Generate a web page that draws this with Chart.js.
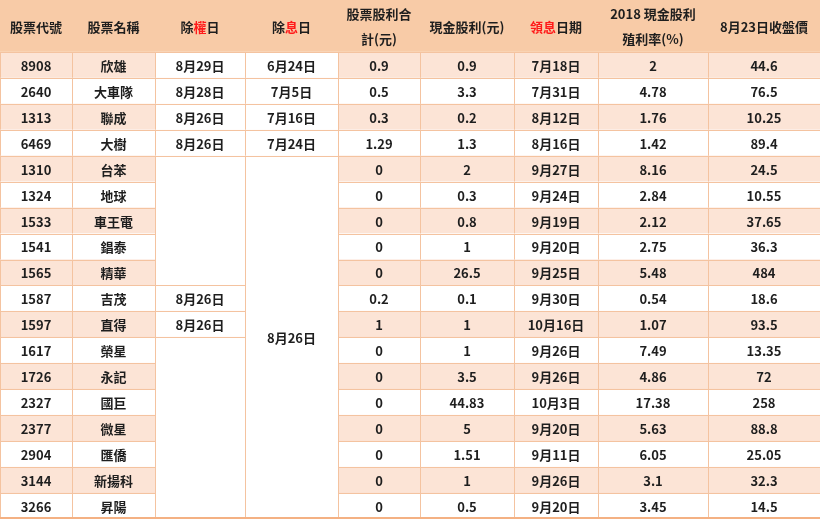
<!DOCTYPE html>
<html><head><meta charset="utf-8">
<script src="https://cdn.jsdelivr.net/npm/chart.js@4"></script>
<style>html,body{margin:0;background:#fff}#wrap{width:820px;height:519px}</style>
</head><body><div id="wrap"><canvas id="c"></canvas></div>
<script>
// ---- table data ----
const codes = ["8908","2640","1313","6469","1310","1324","1533","1541","1565","1587","1597","1617","1726","2327","2377","2904","3144","3266"];
const names = ["欣雄","大車隊","聯成","大樹","台苯","地球","車王電","錩泰","精華","吉茂","直得","榮星","永記","國巨","微星","匯僑","新揚科","昇陽"];
const exRightDates = ["8月29日","8月28日","8月26日","8月26日",null,null,null,null,null,"8月26日","8月26日",null,null,null,null,null,null,null];
const exDivDates = ["6月24日","7月5日","7月16日","7月24日"];
const exDivMerged = "8月26日"; // shared by rows 1310 … 3266
const stockDiv = [0.9,0.5,0.3,1.29,0,0,0,0,0,0.2,1,0,0,0,0,0,0,0];
const cashDiv = [0.9,3.3,0.2,1.3,2,0.3,0.8,1,26.5,0.1,1,1,3.5,44.83,5,1.51,1,0.5];
const payDates = ["7月18日","7月31日","8月12日","8月16日","9月27日","9月24日","9月19日","9月20日","9月25日","9月30日","10月16日","9月26日","9月26日","10月3日","9月20日","9月11日","9月26日","9月20日"];
const yields = [2,4.78,1.76,1.42,8.16,2.84,2.12,2.75,5.48,0.54,1.07,7.49,4.86,17.38,5.63,6.05,3.1,3.45];
const closes = [44.6,76.5,10.25,89.4,24.5,10.55,37.65,36.3,484,18.6,93.5,13.35,72,258,88.8,25.05,32.3,14.5];

// header: each cell is a list of lines, each line a list of [text, red?]
const headers = [
  [[["股票代號"]]], [[["股票名稱"]]],
  [[["除"],["權",1],["日"]]], [[["除"],["息",1],["日"]]],
  [[["股票股利合"]],[["計(元)"]]], [[["現金股利(元)"]]],
  [[["領息",1],["日期"]]], [[["2018 現金股利"]],[["殖利率(%)"]]],
  [[["8月23日收盤價"]]]
];

// ---- layout ----
const colEdges = [0,72,155,245,338,420,514,598,708,820];
const HEAD_ROWS = 2;
const PEACH = "#fce4d6", HEAD = "#f8cba7", LINE = "#f4c3a0", INK = "#1e1e1e", RED = "#ff1a1a";
const FONT = "bold 13px 'Noto Sans CJK TC', 'Noto Sans', sans-serif";

const columns = [codes, names, exRightDates, null, stockDiv, cashDiv, payDates, yields, closes];

const tablePlugin = {
  id: "table",
  afterDraw(chart) {
    const { ctx, scales: { x, y } } = chart;
    const X = v => x.getPixelForValue(v), Y = v => y.getPixelForValue(v);
    const n = codes.length;

    function cell(c, r0, r1, fill, text) {
      const x0 = X(colEdges[c]), x1 = X(colEdges[c + 1]);
      const y0 = Y(r0), y1 = Y(r1);
      ctx.fillStyle = fill;
      ctx.fillRect(x0, y0, x1 - x0, y1 - y0);
      ctx.strokeStyle = LINE;
      ctx.lineWidth = 1;
      ctx.strokeRect(Math.round(x0) + 0.5, Math.round(y0) + 0.5, x1 - x0, y1 - y0);
      if (text !== null && text !== undefined) {
        ctx.fillStyle = INK;
        ctx.fillText(String(text), (x0 + x1) / 2, (y0 + y1) / 2 + 1);
      }
    }

    ctx.save();
    ctx.font = FONT;
    ctx.textAlign = "center";
    ctx.textBaseline = "middle";

    // header
    headers.forEach((lines, c) => {
      const x0 = X(colEdges[c]), x1 = X(colEdges[c + 1]);
      const y0 = Y(-HEAD_ROWS), y1 = Y(0);
      ctx.fillStyle = HEAD;
      ctx.fillRect(x0, y0, x1 - x0, y1 - y0);
      const lh = 25, top = (y0 + y1) / 2 - (lines.length - 1) * lh / 2;
      lines.forEach((parts, i) => {
        const w = parts.reduce((s, p) => s + ctx.measureText(p[0]).width, 0);
        let cx = (x0 + x1) / 2 - w / 2;
        ctx.textAlign = "left";
        parts.forEach(p => {
          ctx.fillStyle = p[1] ? RED : INK;
          ctx.fillText(p[0], cx, top + i * lh + 1);
          cx += ctx.measureText(p[0]).width;
        });
        ctx.textAlign = "center";
      });
    });

    // body
    for (let r = 0; r < n; r++) {
      const fill = r % 2 === 0 ? PEACH : "#ffffff";
      columns.forEach((col, c) => {
        if (c === 2 || c === 3) return;
        cell(c, r, r + 1, fill, col[r]);
      });
    }
    // 除權日: own cells or merged blanks
    let r = 0;
    while (r < n) {
      if (exRightDates[r] !== null) { cell(2, r, r + 1, "#ffffff", exRightDates[r]); r++; continue; }
      let e = r; while (e < n && exRightDates[e] === null) e++;
      cell(2, r, e, "#ffffff", null); r = e;
    }
    // 除息日
    exDivDates.forEach((d, i) => cell(3, i, i + 1, "#ffffff", d));
    cell(3, exDivDates.length, n, "#ffffff", exDivMerged);

    // bottom rule
    ctx.fillStyle = "#f4b183";
    ctx.fillRect(X(0), Y(n) - 2, X(820) - X(0), 3);
    ctx.restore();
  }
};

new Chart(document.getElementById("c"), {
  type: "scatter",
  data: { datasets: [{ data: [] }] },
  options: {
    animation: false,
    responsive: true,
    maintainAspectRatio: false,
    events: [],
    layout: { padding: 0 },
    plugins: { legend: { display: false }, tooltip: { enabled: false } },
    scales: {
      x: { type: "linear", min: 0, max: 820, display: false },
      y: { type: "linear", min: -HEAD_ROWS, max: codes.length, reverse: true, display: false }
    }
  },
  plugins: [tablePlugin]
});
</script></body></html>
